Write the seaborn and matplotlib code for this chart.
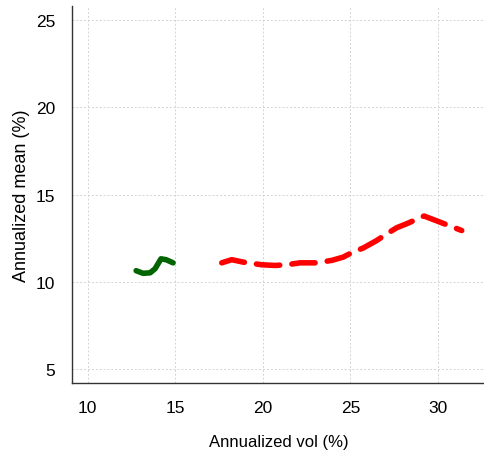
import matplotlib
matplotlib.use("Agg")
import matplotlib.pyplot as plt
import seaborn as sns
import pandas as pd

# frontier points (annualized vol %, annualized mean %)
green_vol = [12.76, 13.16, 13.56, 13.84, 14.18, 14.47, 14.87]
green_mean = [10.65, 10.50, 10.53, 10.76, 11.33, 11.28, 11.10]

red_vol = [17.65, 18.22, 18.88, 19.93, 20.69, 21.36, 22.12, 23.07, 23.93, 24.59,
           25.07, 25.73, 26.50, 27.07, 27.64, 28.21, 29.20, 30.11, 31.35]
red_mean = [11.10, 11.28, 11.14, 10.99, 10.95, 10.99, 11.10, 11.10, 11.24, 11.43,
            11.68, 11.95, 12.38, 12.76, 13.11, 13.34, 13.78, 13.43, 12.95]

x_ticks = [10, 15, 20, 25, 30]
y_ticks = [5, 10, 15, 20, 25]

sns.set_theme(style="white")
plt.rcParams["font.family"] = ["Liberation Sans", "DejaVu Sans"]

fig = plt.figure(figsize=(4.85, 4.52), dpi=100)
ax = fig.add_axes([0.1485, 0.1504, 0.8515, 0.834])

green = pd.DataFrame({"vol": green_vol, "mean": green_mean})
red = pd.DataFrame({"vol": red_vol, "mean": red_mean})

sns.lineplot(data=green, x="vol", y="mean", sort=False, ax=ax, color="#006400",
             lw=4, solid_capstyle="round", solid_joinstyle="round")
sns.lineplot(data=red, x="vol", y="mean", sort=False, ax=ax, color="#ff0000",
             lw=4, dashes=False, dash_capstyle="round")
ax.lines[-1].set_dashes((4.2, 2.2))

ax.set_xlim(9.1, 32.68)
ax.set_ylim(4.22, 25.8)
ax.set_xticks(x_ticks)
ax.set_yticks(y_ticks)
ax.grid(True, color="#d3d3d3", linestyle=(0, (2, 2)), lw=0.7)
ax.set_axisbelow(True)

sns.despine(ax=ax)
for s in ["left", "bottom"]:
    ax.spines[s].set_color("#333333")
    ax.spines[s].set_linewidth(1.0)
ax.tick_params(direction="out", length=5, width=1, color="#333333",
               labelsize=12.5, labelcolor="black", pad=7)
ax.set_xlabel("Annualized vol (%)", fontsize=12, labelpad=14, color="black")
ax.set_ylabel("Annualized mean (%)", fontsize=13, labelpad=4.5, color="black")

fig.savefig("out.png", dpi=100)
